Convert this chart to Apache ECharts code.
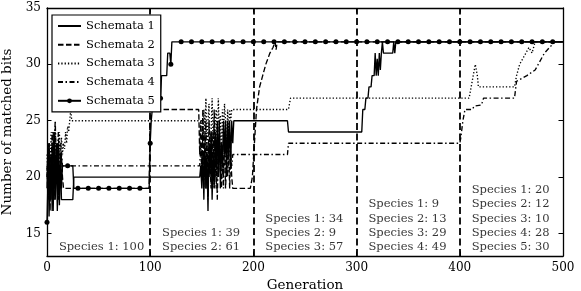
<!DOCTYPE html>
<html><head><meta charset="utf-8">
<script src="https://cdn.jsdelivr.net/npm/echarts@6/dist/echarts.min.js"></script>
<style>html,body{margin:0;padding:0;background:#fff}#c{width:581px;height:291px}</style>
</head><body><div id="c"></div>
<script>
const FONT = 'DejaVu Serif';
const seriesNames = ['Schemata 1', 'Schemata 2', 'Schemata 3', 'Schemata 4', 'Schemata 5'];

const schemata1 = [[0,19],[1,22],[2,16.5],[3,21],[4,18],[5,23],[6,17],[7,22],[8,18],[9,23],[10,17],[11,21],[12,17.5],[13,22],[14,18],[15,18],[25,18],[26,20],[148,20],[149,21],[150,19],[151,22],[152,18],[153,23],[154,19],[155,22],[156,17],[157,23],[158,20],[159,24],[160,18],[161,22],[162,19],[163,24],[164,21],[165,25],[166,20],[167,25],[168,19],[169,23],[170,21],[171,25],[172,22],[173,25],[174,20],[175,25],[176,22],[177,25],[178,21],[179,25],[180,23],[181,25],[233,25],[234,24],[305,24],[306,26],[308,26],[309,27],[311,27],[312,28],[314,28],[315,29],[317,29],[318,31],[319,29],[320,30.5],[321,29],[322,31],[323,29.5],[324,31],[325,32],[326,31],[335,31],[336,32],[337,31],[338,32],[500,32]];

const schemata2 = [[0,21],[1,18],[2,23],[3,17],[4,22],[5,19],[6,24],[7,18],[8,22],[9,20],[10,23],[11,18],[12,21],[13,19],[14,22],[15,20],[16,19],[26,19],[99,19],[100,26],[147,26],[148,22],[149,25],[150,20],[151,26],[152,21],[153,24],[154,19],[155,23],[156,20],[157,25],[158,21],[159,19],[160,24],[161,20],[162,26],[163,22],[164,19],[165,23],[166,20],[167,25],[168,21],[169,19],[170,22],[171,20],[172,24],[173,19],[174,21],[175,20],[176,23],[177,19],[178,22],[179,20],[180,19],[194,19],[197,19],[199,20],[201,23],[203,26],[206,28],[209,29],[212,30],[216,31],[219,31.5],[221,32],[222,31.3],[223,32],[500,32]];

const schemata3 = [[0,22],[1,20],[2,23],[3,21],[4,24],[5,20],[6,23],[7,22],[8,24.5],[9,21],[10,23],[11,22],[12,24],[13,21],[14,23.5],[15,22],[16,23],[17,22.5],[18,24],[19,23],[20,24.5],[21,24],[22,25],[23,26],[24,25],[150,25],[151,23],[152,26],[153,24],[154,27],[155,22],[156,25],[157,26.5],[158,21],[159,24],[160,27],[161,23],[162,19],[163,25],[164,26],[165,22],[166,27],[167,24],[168,25.5],[169,21],[170,26],[171,23.5],[172,26.5],[173,25],[174,22],[175,26],[176,24],[177,26],[178,25],[179,26],[180,26],[234,26],[236,27],[409,27],[411,28],[413,29],[415,30],[417,29],[418,28],[453,28],[455,29],[458,30],[461,30.5],[464,31],[467,31.5],[470,31],[473,32],[500,32]];

const schemata4 = [[0,20],[1,23],[2,19],[3,22],[4,21],[5,24],[6,20],[7,23],[8,25],[9,21],[10,22],[11,24],[12,20],[13,23],[14,22],[15,21],[148,21],[149,23],[150,20],[151,24],[152,19],[153,22],[154,25],[155,20],[156,18],[157,23],[158,21],[159,24],[160,19],[161,22],[162,25],[163,20],[164,23],[165,18],[166,22],[167,24],[168,20],[169,23],[170,21],[171,19],[172,24],[173,22],[174,20],[175,23],[176,21],[177,24],[178,22],[179,21],[180,22],[233,22],[234,23],[400,23],[401,23.5],[403,25],[405,26],[412,26],[414,26.3],[421,26.4],[423,27],[453,27],[455,28.5],[465,29],[473,29.5],[476,30],[479,30.5],[482,31],[487,31.5],[492,32],[500,32]];

const schemata5 = [[0,16],[1,20],[2,23],[3,18],[4,22],[5,17],[6,21],[7,24],[8,19],[9,22],[10,20],[11,23],[12,18],[13,21],[14,19],[15,21],[20,21],[25,21],[26,19],[30,19],[40,19],[50,19],[60,19],[70,19],[80,19],[90,19],[99,19],[100,23],[101,25],[102,26],[109,26],[110,27],[111,29],[116,29],[117,31],[119,31],[120,30],[121,32],[130,32],[140,32],[150,32],[160,32],[170,32],[180,32],[190,32],[200,32],[210,32],[220,32],[230,32],[240,32],[250,32],[260,32],[270,32],[280,32],[290,32],[300,32],[310,32],[320,32],[330,32],[340,32],[350,32],[360,32],[370,32],[380,32],[390,32],[400,32],[410,32],[420,32],[430,32],[440,32],[450,32],[460,32],[470,32],[480,32],[490,32],[500,32]];

const xTicks = [0, 100, 200, 300, 400, 500];
const yTicks = [15, 20, 25, 30, 35];
const separators = [100, 200, 300, 400];
const periodStarts = [0, 100, 200, 300, 400];
const speciesCounts = [[100], [39, 61], [34, 9, 57], [9, 13, 29, 49], [20, 12, 10, 28, 30]];

const allData = [schemata1, schemata2, schemata3, schemata4, schemata5];
const lineTypes = ['solid', [5.5, 2.5], [1.3, 2], [5, 2.5, 1.5, 2.5], 'solid'];

const chart = echarts.init(document.getElementById('c'), null, {renderer: 'canvas'});

const series = allData.map((d, i) => {
  const isMarked = i === 4;
  return {
    name: seriesNames[i],
    type: 'line',
    data: isMarked
      ? d.map(p => ({value: p, symbol: (p[0] % 10 === 0 && p[0] < 500) ? 'circle' : 'none'}))
      : d,
    symbol: isMarked ? 'circle' : 'none',
    symbolSize: 5,
    showSymbol: isMarked,
    showAllSymbol: true,
    itemStyle: {color: '#000'},
    lineStyle: {color: '#000', width: 1.35, type: lineTypes[i]},
    emphasis: {disabled: true},
    z: 2 + i
  };
});

series.push({
  name: 'annotations',
  type: 'scatter',
  symbolSize: 1,
  itemStyle: {color: 'rgba(0,0,0,0)'},
  silent: true,
  z: 10,
  data: periodStarts.map((s, i) => ({
    value: [s + 12, 13],
    label: {formatter: speciesCounts[i].map((c, j) => 'Species ' + (j + 1) + ': ' + c).join('\n')}
  })),
  label: {
    show: true, position: [0, 0], align: 'left', verticalAlign: 'bottom',
    offset: [0, -1], color: '#000', fontFamily: FONT, fontSize: 11.5, lineHeight: 14.3
  },
  markLine: {
    silent: true,
    symbol: ['none', 'none'],
    label: {show: false},
    lineStyle: {color: '#000', width: 1.8, type: [7, 3.5]},
    data: separators.map(x => ({xAxis: x}))
  }
});

const axisCommon = {
  axisLine: {show: true, onZero: false, lineStyle: {color: '#000', width: 1.3}},
  axisTick: {show: true, inside: true, length: 4.5, lineStyle: {color: '#000', width: 1}},
  splitLine: {show: false}
};

chart.setOption({
  animation: false,
  backgroundColor: '#fff',
  grid: {left: 47, right: 18, top: 8, bottom: 35, containLabel: false, outerBoundsMode: 'none'},
  legend: {
    data: seriesNames.map((n, i) => i === 4 ? {name: n} : {name: n, itemStyle: {opacity: 0}}),
    orient: 'vertical',
    left: 52, top: 15,
    z: 30,
    padding: [4, 6, 4, 5],
    itemWidth: 23, itemHeight: 6, itemGap: 4.7,
    backgroundColor: '#fff',
    borderColor: '#000', borderWidth: 1.2, borderRadius: 0,
    textStyle: {color: '#000', fontFamily: FONT, fontSize: 11.5, lineHeight: 14},
    selectedMode: false
  },
  xAxis: [
    Object.assign({}, axisCommon, {
      type: 'value', position: 'bottom', min: 0, max: 500, interval: 100,
      name: 'Generation', nameLocation: 'middle', nameGap: 22,
      nameTextStyle: {color: '#000', fontFamily: FONT, fontSize: 13.5},
      axisLabel: {color: '#000', fontFamily: FONT, fontSize: 12, margin: 6}
    }),
    Object.assign({}, axisCommon, {
      type: 'value', position: 'top', min: 0, max: 500, interval: 100,
      axisLabel: {show: false}
    })
  ],
  yAxis: [
    Object.assign({}, axisCommon, {
      type: 'value', position: 'left', min: 13, max: 35,
      name: 'Number of matched bits', nameLocation: 'middle', nameGap: 21,
      nameTextStyle: {color: '#000', fontFamily: FONT, fontSize: 13.5},
      axisLabel: {color: '#000', fontFamily: FONT, fontSize: 12, margin: 6, customValues: yTicks},
      axisTick: Object.assign({}, axisCommon.axisTick, {customValues: yTicks})
    }),
    Object.assign({}, axisCommon, {
      type: 'value', position: 'right', min: 13, max: 35,
      axisLabel: {show: false, customValues: yTicks},
      axisTick: Object.assign({}, axisCommon.axisTick, {customValues: yTicks})
    })
  ],
  series: series
});
</script>
</body></html>
